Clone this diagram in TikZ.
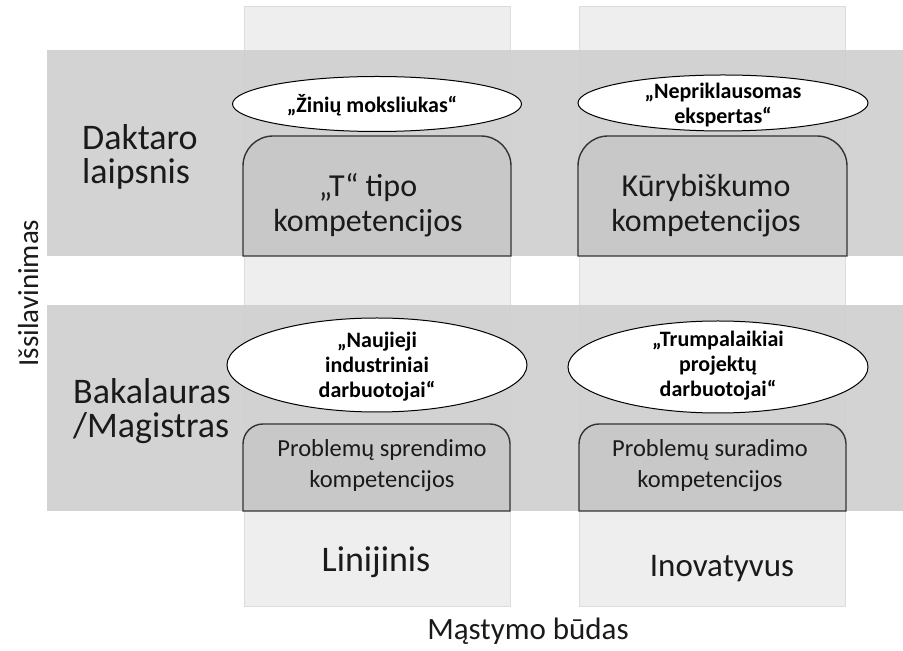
\documentclass[tikz,border=0pt]{standalone}
\usepackage{fontspec}
\setmainfont{Carlito}
\usetikzlibrary{shapes.geometric,calc}

\definecolor{bandgray}{HTML}{D0D0D0}
\definecolor{colgray}{HTML}{EEEEEE}
\definecolor{coledge}{HTML}{DCDCDC}
\definecolor{boxgray}{HTML}{C8C8C8}
\definecolor{ink}{HTML}{1A1A1A}

% box with rounded top corners and a square bottom, drawn over a named area node
\newcommand\tabshape[2]{%
  \draw[tabline] (#1.south west) -- ($(#1.north west)+(0,-#2)$)
    arc[start angle=180,end angle=90,radius=#2 pt]
    -- ($(#1.north east)+(-#2,0)$)
    arc[start angle=90,end angle=0,radius=#2 pt]
    -- (#1.south east) -- cycle;}

\begin{document}
\begin{tikzpicture}[x=1pt,y=1pt,
  column/.style={fill=colgray,draw=coledge,line width=0.6pt,anchor=south west,
    minimum width=266pt,minimum height=600pt,inner sep=0pt},
  band/.style={fill=bandgray,fill opacity=0.93,anchor=south west,
    minimum width=856pt,minimum height=206pt,inner sep=0pt},
  area/.style={draw=none,inner sep=0pt,outer sep=0pt,anchor=south west},
  tabline/.style={draw=black!80,fill=boxgray,line width=1.4pt},
  bubble/.style={ellipse,draw=black,fill=white,line width=1pt,inner sep=0pt,outer sep=0pt},
  bubbletext/.style={font=\bfseries\fontsize{22}{25}\selectfont,align=center,
    anchor=base,inner sep=0pt,text=black},
  rowlabel/.style={font=\fontsize{36}{34}\selectfont,align=left,anchor=base west,
    inner sep=0pt,text=ink},
  bigtext/.style={font=\fontsize{32}{35}\selectfont,align=center,anchor=base,
    inner sep=0pt,text=ink},
  smalltext/.style={font=\fontsize{24.5}{31}\selectfont,align=center,anchor=base,
    inner sep=0pt,text=ink},
  axislabel/.style={anchor=base,inner sep=0pt,text=ink}
]
\useasboundingbox (0,0) rectangle (903,651);

% columns for the two ways of thinking
\node[column] (colL) at (244,44) {};
\node[column] (colR) at (579,44) {};

% bands for the two education levels
\node[band] (bandD) at (47,395) {};
\node[band] (bandB) at (47,140) {};

% competence boxes
\node[area,minimum width=268pt,minimum height=120pt] (boxTL) at (243,395) {};
\node[area,minimum width=269pt,minimum height=120pt] (boxTR) at (578,395) {};
\node[area,minimum width=267pt,minimum height=87pt] (boxBL) at (243,140) {};
\node[area,minimum width=267pt,minimum height=87pt] (boxBR) at (579,140) {};
\tabshape{boxTL}{30}
\tabshape{boxTR}{30}
\tabshape{boxBL}{20}
\tabshape{boxBR}{20}

% multi-line nodes are placed by the baseline of their last line
\node[bigtext] (tTL) at (368,419) {„T“ tipo\\kompetencijos};
\node[bigtext] (tTR) at (706,419) {Kūrybiškumo\\kompetencijos};
\node[smalltext] (tBL) at (382,163) {Problemų sprendimo\\kompetencijos};
\node[smalltext] (tBR) at (710,163) {Problemų suradimo\\kompetencijos};

% role ellipses
\node[bubble,minimum width=289pt,minimum height=55pt] (eTL) at (377,547) {};
\node[bubble,minimum width=290pt,minimum height=56pt] (eTR) at (723,548) {};
\node[bubble,minimum width=300pt,minimum height=94pt] (eBL) at (377,286) {};
\node[bubble,minimum width=300pt,minimum height=92pt] (eBR) at (718,284) {};

\node[bubbletext] (qTL) at (372,538) {„Žinių moksliukas“};
\node[bubbletext] (qTR) at (723,527) {„Nepriklausomas\\ekspertas“};
\node[bubbletext] (qBL) at (377,253) {„Naujieji\\industriniai\\darbuotojai“};
\node[bubbletext] (qBR) at (718,254) {„Trumpalaikiai\\projektų\\darbuotojai“};

% row labels
\node[rowlabel] (lblD) at (82,467) {Daktaro\\laipsnis};
\node[rowlabel] (lblB) at (73,213) {Bakalauras\\/Magistras};

% column labels and axis titles
\node[axislabel,font=\fontsize{36}{40}\selectfont] (cL) at (376,79) {Linijinis};
\node[axislabel,font=\fontsize{33}{38}\selectfont] (cR) at (722,74) {Inovatyvus};
\node[axislabel,font=\fontsize{31}{36}\selectfont] (axX) at (528,11) {Mąstymo būdas};
\node[axislabel,font=\fontsize{29}{34}\selectfont,rotate=90] (axY) at (38,358) {Išsilavinimas};
\end{tikzpicture}
\end{document}
